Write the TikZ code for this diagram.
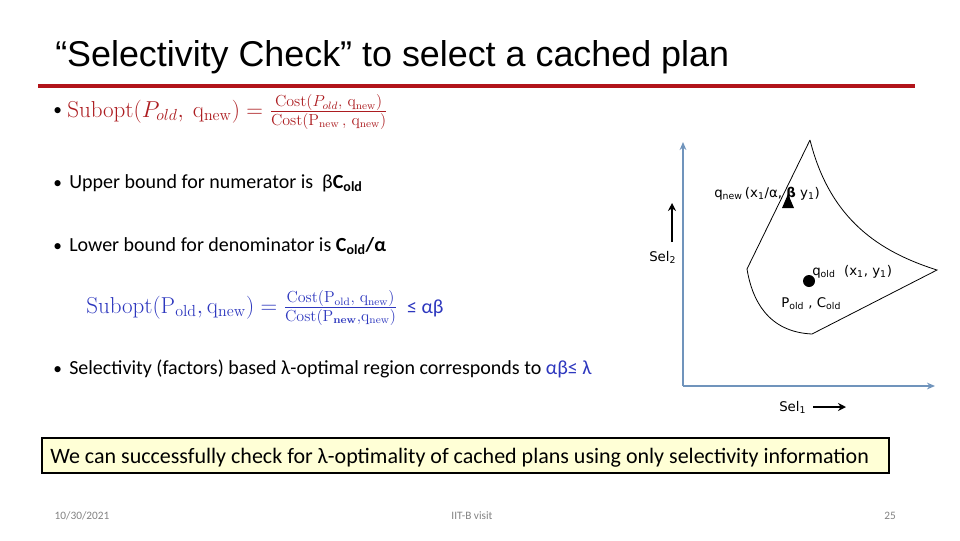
\documentclass[tikz,border=0pt]{standalone}
\usepackage[no-math]{fontspec}
\setmainfont{Carlito}
\newfontfamily\titlefont{Liberation Sans}
\newfontfamily\labfont{DejaVu Sans}
\usetikzlibrary{arrows.meta}
\definecolor{rulered}{RGB}{178,20,26}
\definecolor{formred}{RGB}{172,28,32}
\definecolor{formblue}{RGB}{45,55,190}
\definecolor{axisblue}{RGB}{112,148,188}
\definecolor{boxyellow}{RGB}{255,255,214}
\definecolor{footgray}{RGB}{130,130,130}
\begin{document}
\begin{tikzpicture}[x=0.75pt,y=-0.75pt,
  bodytext/.style={font=\fontsize{15}{18}\selectfont, anchor=base west, inner sep=0pt},
  bulletmark/.style={font=\fontsize{13}{15}\selectfont, anchor=base west, inner sep=0pt},
  labeltext/.style={font=\labfont\fontsize{10}{12}\selectfont, inner sep=0pt},
  foottext/.style={font=\fontsize{8.5}{10}\selectfont, text=footgray, anchor=base, inner sep=0pt},
  axisline/.style={draw=axisblue, line width=1.5pt, -{Stealth[length=6pt,width=5pt]}},
  selarrow/.style={draw=black, line width=1.8pt, -{Stealth[length=6pt,width=6pt]}}]
\useasboundingbox (0,0) rectangle (960,540);

% title and rule
\node[anchor=base west, inner sep=0pt, font=\titlefont\fontsize{26.9}{30}\selectfont] (title) at (55,66) {“Selectivity Check” to select a cached plan};
\draw[rulered, line width=3pt] (38,86) -- (915,86);

% bullet 1
\node[bulletmark, anchor=west] (b1) at (53,112) {•};
\node[anchor=west, inner sep=0pt, text=formred, font=\fontsize{16.6}{20}\selectfont] (f1) at (67,112)
  {$\mathrm{Subopt}(P_{old},\ \mathrm{q}_{\mathrm{new}}) = \frac{\mathrm{Cost}(P_{old},\ \mathrm{q}_{\mathrm{new}})}{\mathrm{Cost}(\mathrm{P}_{\mathrm{new}}\,,\ \mathrm{q}_{\mathrm{new}})}$};

% bullet 2
\node[bulletmark] (b2) at (53,188) {•};
\node[bodytext] (t2) at (69,188) {Upper bound for numerator is\ \ β\textbf{C\textsubscript{old}}};

% bullet 3
\node[bulletmark] (b3) at (53,251) {•};
\node[bodytext] (t3) at (69,251) {Lower bound for denominator is \textbf{C\textsubscript{old}/α}};

% blue formula
\node[anchor=west, inner sep=0pt, text=formblue, font=\fontsize{16.4}{20}\selectfont] (f2) at (86,308)
  {$\mathrm{Subopt}(\mathrm{P}_{\mathrm{old}},\mathrm{q}_{\mathrm{new}}) = \frac{\mathrm{Cost}(\mathrm{P}_{\mathrm{old}},\ \mathrm{q}_{\mathrm{new}})}{\mathrm{Cost}(\mathrm{P}_{\mathbf{new}},\mathrm{q}_{\mathrm{new}})}$};
\node[anchor=west, inner sep=0pt, text=formblue, font=\fontsize{15}{18}\selectfont] (f2b) at (f2.east) {\ \ ≤ αβ};

% bullet 4
\node[bulletmark] (b4) at (53,374) {•};
\node[bodytext] (t4) at (69,374) {Selectivity (factors) based λ-optimal region corresponds to \textcolor{formblue}{αβ≤ λ}};

% conclusion box
\draw[black, line width=1pt, fill=boxyellow] (42,438) rectangle (889,473);
\node[anchor=base west, inner sep=0pt, font=\fontsize{16.5}{19}\selectfont] (concl) at (50,463) {We can successfully check for λ-optimality of cached plans using only selectivity information};

% footer
\node[foottext] (date) at (82,519) {10/30/2021};
\node[foottext] (visit) at (472,519) {IIT-B visit};
\node[foottext] (page) at (890,519) {25};

% axes
\coordinate (origin) at (683,386);
\coordinate (ytop) at (683,142);
\coordinate (xend) at (935,386);
\draw[axisline] (origin) -- (ytop);
\draw[axisline] (origin) -- (xend);

% region
\draw[black, line width=0.6pt] (810,140) -- (747,269)
  .. controls (752,300) and (768,332) .. (812,334)
  -- (937,270)
  .. controls (880,252) and (830,220) .. (810,140);

% markers
\fill[black] (788,194) -- (794,208) -- (782,208) -- cycle;
\fill[black] (809,281) circle (6);

% labels
\node[labeltext, anchor=base west] (qnew) at (714,197) {q\textsubscript{new}\,(x\textsubscript{1}/α, \textbf{β} y\textsubscript{1})};
\node[labeltext, anchor=base west] (qold) at (812,275) {q\textsubscript{old}\ \ (x\textsubscript{1}, y\textsubscript{1})};
\node[labeltext, anchor=base west] (pold) at (781,307) {P\textsubscript{old} , C\textsubscript{old}};
\node[labeltext, anchor=base west] (sel2) at (649,261) {Sel\textsubscript{2}};
\node[labeltext, anchor=base west] (sel1) at (779,411) {Sel\textsubscript{1}};

% direction arrows
\coordinate (s2a) at (672,242);
\coordinate (s2b) at (672,203);
\draw[selarrow] (s2a) -- (s2b);
\coordinate (s1a) at (813,407);
\coordinate (s1b) at (846,407);
\draw[selarrow] (s1a) -- (s1b);
\end{tikzpicture}
\end{document}
